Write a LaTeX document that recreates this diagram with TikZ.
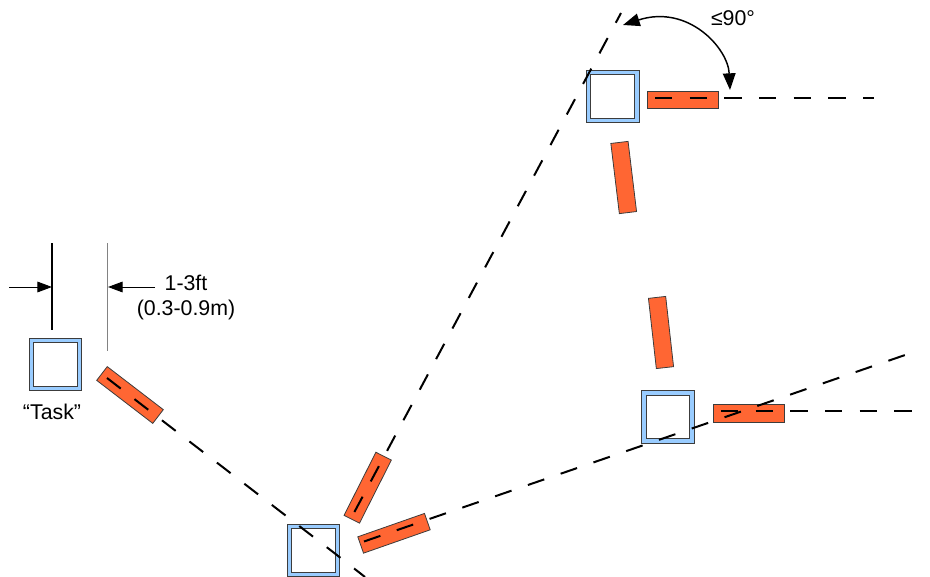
\documentclass[tikz,border=0pt]{standalone}
\usepackage{fontspec}
\setmainfont{Liberation Sans}
\usetikzlibrary{arrows.meta}

\definecolor{padorange}{RGB}{255,102,51}
\definecolor{stationblue}{RGB}{153,204,255}
\definecolor{edgegray}{RGB}{60,60,60}
\definecolor{rulegray}{RGB}{130,130,130}

\tikzset{every picture/.style={line width=0.75pt}}
\tikzset{
  station/.style={draw=edgegray, line width=0.6pt, fill=stationblue, minimum size=39.3pt,
    inner sep=0pt, label={[draw=edgegray, line width=0.6pt, fill=white, minimum size=32.8pt,
    inner sep=0pt]center:{}}},
  bar/.style={draw=edgegray, line width=0.6pt, fill=padorange, minimum width=53pt,
    minimum height=13pt, inner sep=0pt},
  guide/.style={line width=1.5pt, dash pattern={on 13pt off 13pt}},
  dimarrow/.style={line width=0.75pt, -{Triangle[length=11pt,width=8pt]}},
  caption/.style={font=\fontsize{16}{18.75}\selectfont, inner sep=0pt},
}

\begin{document}
\begin{tikzpicture}[x=0.75pt,y=0.75pt,yscale=-1,xscale=1]
\useasboundingbox (0,0) rectangle (930,577);

%Shape: stations
\node [station] (task) at (55.5,364.5) {};
\node [station] (hub) at (313.3,550.5) {};
\node [station] (east) at (668,417) {};
\node [station] (north) at (612.7,96.7) {};

%Shape: bars
\node [bar, rotate=-37.5] (barTask) at (130,395) {};
\node [bar, rotate=63.2] (barHubN) at (367.7,487.7) {};
\node [bar, rotate=19.3] (barHubE) at (394,533.3) {};
\node [bar] (barEast) at (748.7,413.3) {};
\node [bar, rotate=96.4] (barEastN) at (661,332.5) {};
\node [bar, rotate=96.9] (barNorthS) at (623.7,177.5) {};
\node [bar] (barNorth) at (683,99.7) {};

%Straight Lines: guide lines
\coordinate (apex) at (333,552);
\coordinate (taskStart) at (107,378);
\coordinate (southEnd) at (365,577);
\coordinate (northStart) at (354.4,512);
\coordinate (northEnd) at (621,13);
\coordinate (eastStart) at (364,541.5);
\coordinate (eastEnd) at (908,354);
\coordinate (eastLeft) at (721,411);
\coordinate (eastRight) at (913,411);
\coordinate (northLeft) at (655,98);
\coordinate (northRight) at (874,98);
\draw [guide] (taskStart) -- (apex) -- (southEnd);
\draw [guide] (northStart) -- (northEnd);
\draw [guide] (eastStart) -- (eastEnd);
\draw [guide] (eastLeft) -- (eastRight);
\draw [guide] (northLeft) -- (northRight);

%Straight Lines: dimension
\coordinate (dimLtop) at (52,243);
\coordinate (dimLbot) at (52,330);
\coordinate (dimRtop) at (107.3,243);
\coordinate (dimRbot) at (107.3,351);
\draw [line width=1.1pt] (dimLtop) -- (dimLbot);
\draw [rulegray, line width=0.9pt] (dimRtop) -- (dimRbot);
\coordinate (arrLfrom) at (9,287);
\coordinate (arrLto) at (52,287);
\coordinate (arrRfrom) at (155,287);
\coordinate (arrRto) at (108,287);
\draw [dimarrow] (arrLfrom) -- (arrLto);
\draw [dimarrow] (arrRfrom) -- (arrRto);

%Curve Lines: angle
\coordinate (angA) at (623,25);
\coordinate (angB) at (730,90);
\draw [line width=1.1pt, {Triangle[length=12.5pt,width=9.5pt]}-{Triangle[length=12.5pt,width=9.5pt]}]
  (angA) .. controls (688,4) and (728,48) .. (angB);

% Text Node
\node [caption] (lblTask) at (52,412) {“Task”};
% Text Node
\node [caption, align=center] (lblGap) at (186,297.5) {1-3ft\\(0.3-0.9m)};
% Text Node
\node [caption] (lblAngle) at (733,18) {≤90°};

\end{tikzpicture}
\end{document}
